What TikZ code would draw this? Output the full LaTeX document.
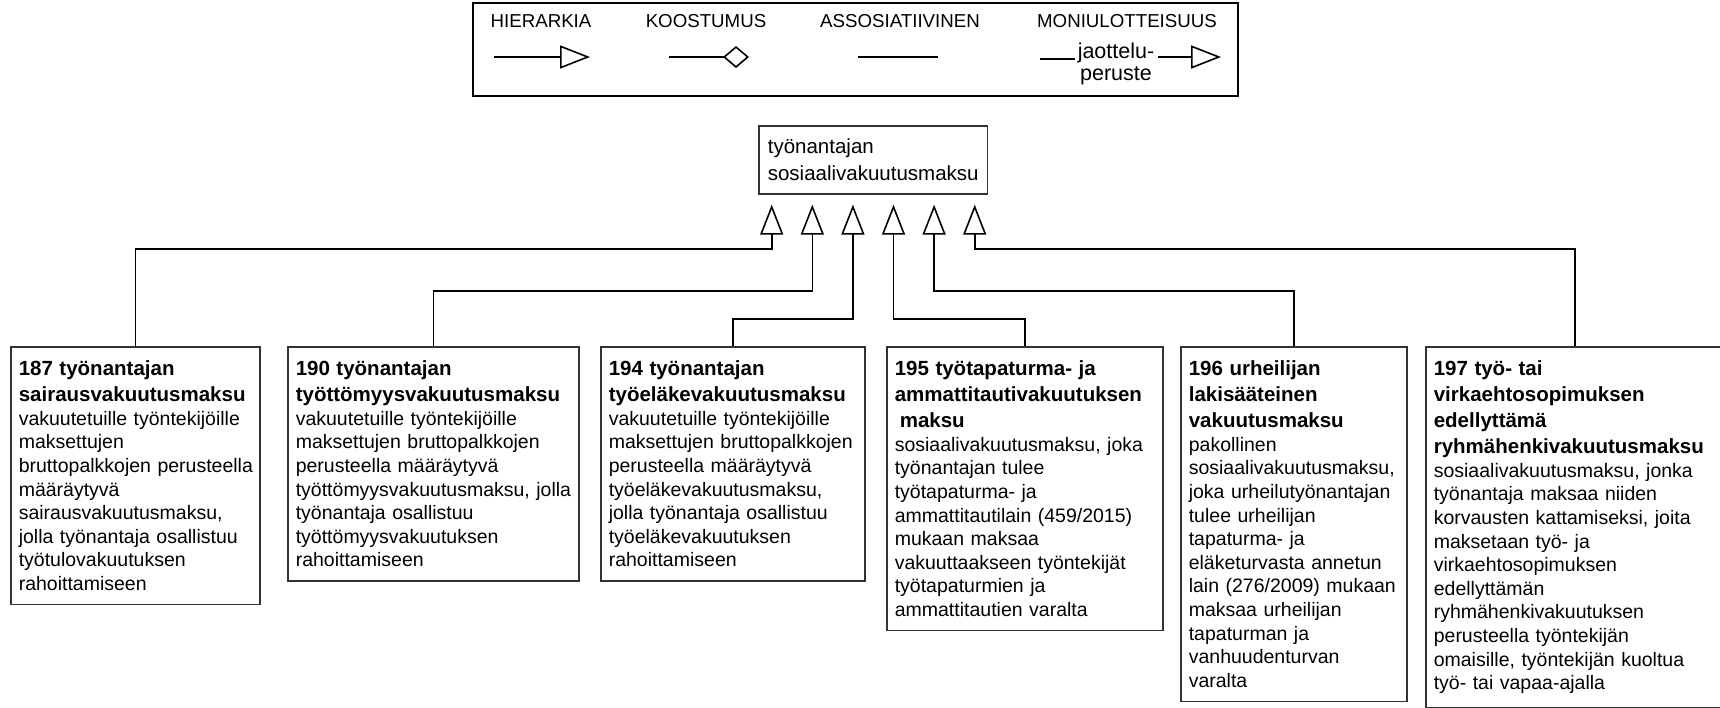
\documentclass[tikz,border=0pt]{standalone}
\usepackage{fontspec}
\setmainfont{Liberation Sans}
\usetikzlibrary{arrows.meta,calc}
\setlength{\parindent}{0pt}
\hyphenpenalty=10000
\newcommand\ktitle[1]{{\bfseries\fontsize{20.5}{23.6}\selectfont#1}}
\newcommand\kfit{\rightskip=0pt plus 1fil minus 20pt\relax}
\begin{document}
\begin{tikzpicture}[x=1pt,y=-1pt,line width=1.6pt,
  hier/.style={-{Triangle[open,length=30pt,width=23pt]}},
  kbox/.style={draw=black!80,anchor=north west,align=left,inner xsep=8pt,inner ysep=14pt,font=\fontsize{19.5}{23.6}\selectfont}]
\pgfmathsetmacro{\ktop}{346}
\useasboundingbox(0,0)rectangle(1720,707);
\fill[white](0,0)rectangle(1720,707);
% selite
\draw(473,3)rectangle(1238,96);
\foreach \kx/\lb in {541/HIERARKIA,706/KOOSTUMUS,900/ASSOSIATIIVINEN,1127/MONIULOTTEISUUS}{\node[anchor=base,inner sep=0pt,font=\fontsize{18.7}{22}\selectfont](l\lb) at (\kx,27){\lb};}
\draw[hier](494,57)--(590,57);
\draw[-{Diamond[open,length=26pt,width=22pt]}](669,57)--(749,57);
\draw(858,57)--(938,57);
\node[align=center,inner sep=0pt,font=\fontsize{21.5}{22}\selectfont](jp) at (1116,63.5){jaottelu-\\peruste};
\draw(jp.west|-0,59)++(-2,0)--++(-35,0);
\draw[hier](jp.east|-0,57)++(3,0)--++(63,0);
% yläkäsite
\node[draw=black!80,anchor=north west,align=left,inner xsep=9pt,inner ysep=13pt,font=\fontsize{20.5}{27}\selectfont](top) at (758,125){työnantajan\\sosiaalivakuutusmaksu};
% alakäsitteet
\node[kbox,text width=233pt](b187) at (10,\ktop){\kfit\ktitle{187 työnantajan}\\[2.4pt]\ktitle{sairausvakuutusmaksu}\\vakuutetuille työntekijöille\\maksettujen\\bruttopalkkojen perusteella\\määräytyvä\\sairausvakuutusmaksu,\\jolla työnantaja osallistuu\\työtulovakuutuksen\\rahoittamiseen};
\node[kbox,text width=275pt](b190) at (287,\ktop){\kfit\ktitle{190 työnantajan}\\[2.4pt]\ktitle{työttömyysvakuutusmaksu}\\vakuutetuille työntekijöille\\maksettujen bruttopalkkojen\\perusteella määräytyvä\\työttömyysvakuutusmaksu, jolla\\työnantaja osallistuu\\työttömyysvakuutuksen\\rahoittamiseen};
\node[kbox,text width=248pt](b194) at (600,\ktop){\kfit\ktitle{194 työnantajan}\\[2.4pt]\ktitle{työeläkevakuutusmaksu}\\vakuutetuille työntekijöille\\maksettujen bruttopalkkojen\\perusteella määräytyvä\\työeläkevakuutusmaksu,\\jolla työnantaja osallistuu\\työeläkevakuutuksen\\rahoittamiseen};
\node[kbox,text width=260pt](b195) at (886,\ktop){\kfit\ktitle{195 työtapaturma- ja}\\[2.4pt]\ktitle{ammattitautivakuutuksen}\\[2.4pt]\ktitle{\hspace*{5pt}maksu}\\sosiaalivakuutusmaksu, joka\\työnantajan tulee\\työtapaturma- ja\\ammattitautilain (459/2015)\\mukaan maksaa\\vakuuttaakseen työntekijät\\työtapaturmien ja\\ammattitautien varalta};
\node[kbox,text width=210pt](b196) at (1180,\ktop){\kfit\ktitle{196 urheilijan}\\[2.4pt]\ktitle{lakisääteinen}\\[2.4pt]\ktitle{vakuutusmaksu}\\pakollinen\\sosiaalivakuutusmaksu,\\joka urheilutyönantajan\\tulee urheilijan\\tapaturma- ja\\eläketurvasta annetun\\lain (276/2009) mukaan\\maksaa urheilijan\\tapaturman ja\\vanhuudenturvan\\varalta};
\node[kbox,text width=282pt](b197) at (1425,\ktop){\kfit\ktitle{197 työ- tai}\\[2.4pt]\ktitle{virkaehtosopimuksen}\\[2.4pt]\ktitle{edellyttämä}\\[2.4pt]\ktitle{ryhmähenkivakuutusmaksu}\\sosiaalivakuutusmaksu, jonka\\työnantaja maksaa niiden\\korvausten kattamiseksi, joita\\maksetaan työ- ja\\virkaehtosopimuksen\\edellyttämän\\ryhmähenkivakuutuksen\\perusteella työntekijän\\omaisille, työntekijän kuoltua\\työ- tai vapaa-ajalla};
\foreach \k/\dx/\lev in {187/-101.5/249,190/-60.9/291,194/-20.3/319,195/20.3/319,196/60.9/291,197/101.5/249}{
\coordinate(p\k) at ($(top.south)+(\dx,0)$);
\draw[hier,shorten >=10pt](b\k.north)|-(p\k|-0,\lev)--(p\k);}
\end{tikzpicture}
\end{document}
